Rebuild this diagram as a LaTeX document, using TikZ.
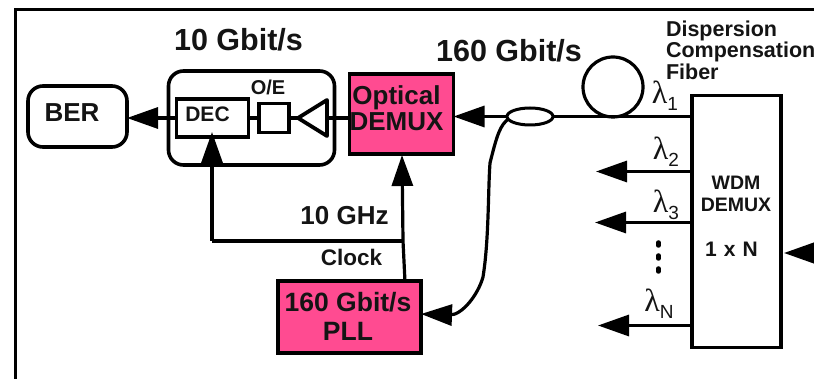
\documentclass[tikz,border=0pt]{standalone}
\usepackage{fontspec}
\setmainfont{Liberation Sans}
\newfontfamily\lamfont{Liberation Serif}
\usetikzlibrary{arrows.meta,shapes.geometric}
\definecolor{hotpink}{HTML}{FF4B91}
\newcommand{\fsz}[1]{\fontsize{#1}{#1}\selectfont}
\newcommand{\lam}[1]{{\lamfont\fsz{32}λ}\raisebox{-7pt}{\fsz{19}#1}}
\tikzset{
  x=1pt,y=-1pt,
  every node/.style={inner sep=0pt,outer sep=0pt,align=center,text=black!92},
  wire/.style={line width=3.2pt,black},
  arr/.style={wire,-{Triangle[length=31pt,width=21pt]}},
  frameline/.style={line width=2.5pt,black},
  boxed/.style={draw=black,line width=3.6pt,fill=white},
  pinkbox/.style={boxed,fill=hotpink},
  roundbox/.style={boxed,rounded corners=15pt},
  lab/.style={anchor=center,font=\bfseries\fsz{#1}},
  lamlab/.style={anchor=center,font=\normalfont},
}
\begin{document}
\begin{tikzpicture}
\useasboundingbox (0,0) rectangle (814,379);
\fill[white] (0,0) rectangle (814,379);
\draw[frameline] (15.5,379) -- (15.5,9.5) -- (814,9.5);

% boxes
\node[roundbox,minimum width=99pt,minimum height=61pt] (ber) at (77.5,116.5) {};
\node[lab=26] (bertxt) at (72,113) {BER};
\node[roundbox,minimum width=166pt,minimum height=94pt] (rx) at (251.5,118) {};
\node[boxed,minimum width=72pt,minimum height=38pt] (dec) at (212.5,118) {};
\node[lab=21] (dectxt) at (207.5,114.5) {DEC};
\node[boxed,minimum width=30pt,minimum height=29pt] (oe) at (274,118) {};
\node[lab=20] (oetxt) at (268,87) {O/E};
\node[pinkbox,minimum width=104pt,minimum height=80pt] (odm) at (401.5,114) {};
\node[lab=26] (odmtxt) at (396.5,108.5) {Optical\\DEMUX};
\node[pinkbox,minimum width=143pt,minimum height=72pt] (pll) at (349.5,317) {};
\node[lab=26.5] (plltxt) at (348,316.5) {160 Gbit/s\\[2.5pt]PLL};
\node[boxed,minimum width=89pt,minimum height=252pt] (wdm) at (736.5,221.5) {};
\node[lab=19.5] (wdmtxt) at (736,194) {WDM\\[2.5pt]DEMUX};
\node[lab=21] (nxtxt) at (731.5,249) {1\,\,x\,\,N};

% amplifier triangle
\coordinate (ampA) at (327,100);
\coordinate (ampB) at (327,136);
\coordinate (ampT) at (298,118);
\coordinate (ampM) at (327,118);
\draw[wire,line width=3.8pt,line join=round] (ampA) -- (ampT) -- (ampB) -- cycle;

% coupler and fibre loop
\node[draw=black,line width=3pt,fill=white,ellipse,minimum width=46pt,minimum height=17pt] (cpl) at (530,116.5) {};
\node[draw=black,line width=3.2pt,circle,minimum size=60pt] (loop) at (613,87) {};
\coordinate (wdm1) at (wdm.west |- cpl.east);
\coordinate (wdm2) at (692,171.5);
\coordinate (wdm3) at (692,222.5);
\coordinate (wdmN) at (692,325.5);
\coordinate (out2) at (596,171.5);
\coordinate (out3) at (595,222.5);
\coordinate (outN) at (598,325.5);
\coordinate (inE) at (820,253);
\coordinate (inTip) at (784,253);
\coordinate (clk) at (403,241);
\coordinate (clkL) at (212,241);
\coordinate (clkTop) at (402,155);
\coordinate (clkBot) at (405,282);
\coordinate (decIn) at (212,132);
\coordinate (fibreEnd) at (450,315);
\coordinate (fibreTip) at (421,314);

% connectors
\draw[wire] (wdm1) -- (cpl.east);
\draw[arr] (cpl.west) -- (odm.east |- cpl.west);
\draw[wire] (odm.west |- ampM) -- (ampM);
\draw[wire] (ampT) -- (oe.east);
\draw[wire] (oe.west) -- (dec.east);
\draw[arr] (dec.west) -- (ber.east |- dec.west);
\draw[arr] (clkBot) -- (clk) -- (clkTop);
\draw[wire,line join=round] (clk) -- (clkL);
\draw[arr] (clkL) -- (decIn);
\draw[arr] (wdm2) -- (out2);
\draw[arr] (wdm3) -- (out3);
\draw[arr] (wdmN) -- (outN);
\draw[arr] (inE) -- (inTip);
\draw[wire] (cpl.west) ++(2,2) .. controls (500,125) and (497,135) .. (490,163)
  .. controls (488,190) and (489,240) .. (483,277)
  .. controls (478,295) and (462,315) .. (fibreEnd);
\draw[arr] (fibreEnd) -- (fibreTip);

% dots
\coordinate (dotA) at (658.5,244);
\coordinate (dotB) at (658.5,257);
\coordinate (dotC) at (658.5,270);
\draw[line width=4.5pt,line cap=round] (dotA) ++(0,-1.5) -- ++(0,3);
\draw[line width=4.5pt,line cap=round] (dotB) ++(0,-1.5) -- ++(0,3);
\draw[line width=4.5pt,line cap=round] (dotC) ++(0,-1.5) -- ++(0,3);

% labels
\node[lab=30.5] (t10) at (238.5,40) {10 Gbit/s};
\node[lab=30.5] (t160) at (509,51) {160 Gbit/s};
\node[font=\bfseries\fsz{21.5},anchor=north west,align=left] (tdcf) at (666,20.5) {Dispersion\\Compensation\\Fiber};
\node[lab=26] (t10g) at (344.5,216) {10 GHz};
\node[lab=22.5] (tclk) at (351.5,257) {Clock};
\node[lamlab] (l1) at (665,96) {\lam{1}};
\node[lamlab] (l2) at (666,152) {\lam{2}};
\node[lamlab] (l3) at (666,205) {\lam{3}};
\node[lamlab] (lN) at (659,304) {\lam{N}};
\end{tikzpicture}
\end{document}
